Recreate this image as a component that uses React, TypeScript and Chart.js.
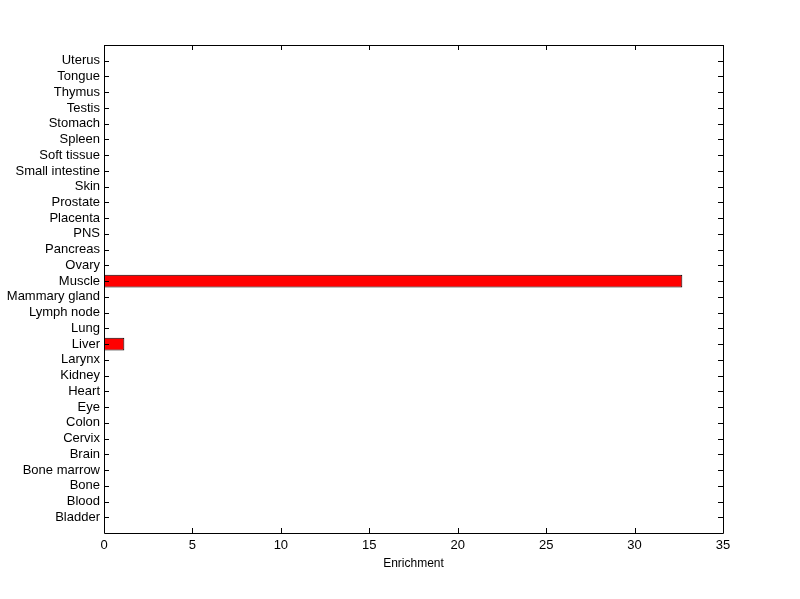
import React, { useEffect, useRef } from "react";
import { Chart, registerables } from "chart.js";

Chart.register(...registerables);

// categories from bottom to top
const categories = [
  "Bladder", "Blood", "Bone", "Bone marrow", "Brain", "Cervix", "Colon", "Eye",
  "Heart", "Kidney", "Larynx", "Liver", "Lung", "Lymph node", "Mammary gland",
  "Muscle", "Ovary", "Pancreas", "PNS", "Placenta", "Prostate", "Skin",
  "Small intestine", "Soft tissue", "Spleen", "Stomach", "Testis", "Thymus",
  "Tongue", "Uterus",
];
const enrichment = [
  0, 0, 0, 0, 0, 0, 0, 0,
  0, 0, 0, 1.15, 0, 0, 0,
  32.7, 0, 0, 0, 0, 0, 0,
  0, 0, 0, 0, 0, 0,
  0, 0,
];
const xTicks = [0, 5, 10, 15, 20, 25, 30, 35];
const xTitle = "Enrichment";

const FONT = "'Liberation Sans', Arial, Helvetica, sans-serif";

export default function App() {
  const ref = useRef<HTMLCanvasElement | null>(null);

  useEffect(() => {
    if (!ref.current) return;
    // top-to-bottom order with blank padding slots
    const labels = ["", ...categories.slice().reverse(), ""];
    const values = [null, ...enrichment.slice().reverse(), null];

    const boxTicks = {
      id: "boxTicks",
      afterDraw(chart: any) {
        const { ctx, chartArea: a } = chart;
        const L = 5;
        ctx.save();
        ctx.strokeStyle = "#000";
        ctx.lineWidth = 1;
        ctx.beginPath();
        ctx.rect(Math.round(a.left) + 0.5, Math.round(a.top) + 0.5, Math.round(a.right - a.left), Math.round(a.bottom - a.top));
        const ys = chart.scales.y;
        for (let i = 1; i < labels.length - 1; i++) {
          const y = Math.round(ys.getPixelForTick(i)) + 0.5;
          ctx.moveTo(a.left, y);
          ctx.lineTo(a.left + L, y);
          ctx.moveTo(a.right - L, y);
          ctx.lineTo(a.right, y);
        }
        const xs = chart.scales.x;
        xTicks.forEach((v) => {
          const x = Math.round(xs.getPixelForValue(v)) + 0.5;
          ctx.moveTo(x, a.bottom);
          ctx.lineTo(x, a.bottom - L);
          ctx.moveTo(x, a.top);
          ctx.lineTo(x, a.top + L);
        });
        ctx.stroke();
        ctx.restore();
      },
    };

    const chart = new Chart(ref.current, {
      type: "bar",
      data: {
        labels,
        datasets: [
          {
            data: values as any,
            backgroundColor: "#FF0000",
            borderColor: "#000000",
            borderWidth: 1,
            borderSkipped: false,
            barPercentage: 0.8,
            categoryPercentage: 1,
          },
        ],
      },
      options: {
        indexAxis: "y",
        animation: false,
        responsive: false,
        maintainAspectRatio: false,
        layout: { padding: { top: 45, right: 77, left: 0, bottom: 0 } },
        plugins: { legend: { display: false }, tooltip: { enabled: false } },
        scales: {
          y: {
            type: "category",
            offset: false,
            grid: { display: false, drawTicks: false },
            border: { display: false },
            ticks: {
              color: "#000",
              font: { family: FONT, size: 13 },
              padding: 4,
              autoSkip: false,
            },
            afterFit: (s: any) => {
              s.width = 104;
            },
          },
          x: {
            type: "linear",
            min: 0,
            max: 35,
            grid: { display: false, drawTicks: false },
            border: { display: false },
            afterBuildTicks: (s: any) => {
              s.ticks = xTicks.map((v) => ({ value: v }));
            },
            ticks: {
              color: "#000",
              font: { family: FONT, size: 13 },
              padding: 5,
            },
            title: {
              display: true,
              text: xTitle,
              color: "#000",
              font: { family: FONT, size: 12 },
              padding: { top: 2, bottom: 28 },
            },
            afterFit: (s: any) => {
              s.height = 66;
            },
          },
        },
      },
      plugins: [boxTicks],
    });
    return () => chart.destroy();
  }, []);

  return (
    <div style={{ position: "fixed", left: 0, top: 0, width: 800, height: 599, background: "#fff" }}>
      <canvas ref={ref} width={800} height={599} style={{ width: 800, height: 599 }} />
    </div>
  );
}
